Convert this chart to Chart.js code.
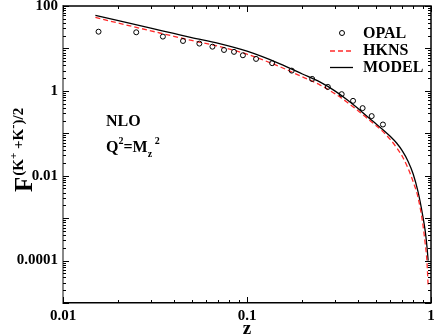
<!DOCTYPE html>
<html>
<head>
<meta charset="utf-8">
<script src="https://cdn.jsdelivr.net/npm/chart.js@4/dist/chart.umd.min.js"></script>
<style>
  html, body { margin: 0; padding: 0; background: #fff; }
  #c { display: block; }
</style>
</head>
<body>
<canvas id="c" width="436" height="336"></canvas>
<script>
// curves
const zGrid = [0.015, 0.02, 0.03, 0.04, 0.05, 0.07, 0.1, 0.15, 0.2, 0.25, 0.3, 0.35, 0.4, 0.45, 0.5, 0.55, 0.6, 0.65, 0.7, 0.75, 0.8, 0.85, 0.9, 0.93, 0.95, 0.965]
const modelF = [60, 45, 30, 22.5, 18, 13.2, 8.6, 4.4, 2.5, 1.6, 1.0, 0.62, 0.39, 0.25, 0.17, 0.12, 0.085, 0.059, 0.038, 0.022, 0.011, 0.0042, 0.0012, 0.0005, 0.00022, 0.0001]
const hknsF = [54, 39.5, 26, 19.3, 15.4, 11.2, 7.3, 3.75, 2.13, 1.37, 0.86, 0.54, 0.345, 0.225, 0.155, 0.108, 0.072, 0.046, 0.028, 0.015, 0.0072, 0.0031, 0.0008, 0.00025, 0.0001, 0.000025]

// OPAL data points
const opalZ = [0.0156, 0.025, 0.0349, 0.0449, 0.0551, 0.0649, 0.075, 0.085, 0.095, 0.112, 0.137, 0.175, 0.226, 0.275, 0.327, 0.377, 0.425, 0.476, 0.548]
const opalF = [24.8, 24.0, 19.0, 15.0, 13.0, 11.0, 9.2, 8.3, 6.9, 5.66, 4.49, 3.0, 1.91, 1.24, 0.836, 0.582, 0.392, 0.254, 0.161]

const xTickValues = [0.01, 0.1, 1]
const xTickLabels = ['0.01', '0.1', '1']
const yTickValues = [0.0001, 0.01, 1, 100]
const yTickLabels = ['0.0001', '0.01', '1', '100']

const serif = '"Liberation Serif", "Times New Roman", serif'

const toPoints = (xs, ys) => xs.map((x, i) => ({ x: x, y: ys[i] }))

function logTicks(min, max) {
  let out = []
  for (let k = Math.floor(Math.log10(min)); k <= Math.ceil(Math.log10(max)); k++) {
    for (let m = 1; m <= 9; m++) {
      let v = m * Math.pow(10, k)
      if (v >= min * 0.999 && v <= max * 1.001) out.push({ v: v, major: m == 1 })
    }
  }
  return out
}

const decorations = {
  id: 'decorations',
  afterDraw(chart) {
    const ctx = chart.ctx
    const a = chart.chartArea
    const xs = chart.scales.x
    const ys = chart.scales.y
    ctx.save()
    // top and right frame
    ctx.strokeStyle = '#000'
    ctx.lineWidth = 1.5
    ctx.beginPath()
    ctx.moveTo(a.left, a.top); ctx.lineTo(a.right, a.top); ctx.lineTo(a.right, a.bottom)
    ctx.stroke()

    // inward tick marks
    ctx.lineWidth = 1
    logTicks(xs.min, xs.max).forEach(t => {
      const px = Math.round(xs.getPixelForValue(t.v)) + 0.5
      const len = t.major ? 6 : 3
      ctx.beginPath()
      ctx.moveTo(px, a.bottom); ctx.lineTo(px, a.bottom - len)
      ctx.moveTo(px, a.top); ctx.lineTo(px, a.top + len)
      ctx.stroke()
    })
    logTicks(ys.min, ys.max).forEach(t => {
      const py = Math.round(ys.getPixelForValue(t.v)) + 0.5
      const len = t.major ? 6 : 3
      ctx.beginPath()
      ctx.moveTo(a.left, py); ctx.lineTo(a.left + len, py)
      ctx.moveTo(a.right, py); ctx.lineTo(a.right - len, py)
      ctx.stroke()
    })

    ctx.fillStyle = '#000'
    ctx.textAlign = 'left'
    ctx.textBaseline = 'alphabetic'

    // x title
    ctx.font = 'bold 19px ' + serif
    ctx.textAlign = 'center'
    ctx.fillText('z', (a.left + a.right) / 2, 334)
    ctx.textAlign = 'left'

    // y title, rotated
    ctx.save()
    ctx.translate(32, 192)
    ctx.rotate(-Math.PI / 2)
    ctx.font = 'bold 25px ' + serif
    ctx.fillText('F', 0, 0)
    let u = ctx.measureText('F').width + 1
    const parts = [['(K', 15, -9], ['+', 11, -15], [' +K', 15, -9], ['-', 13, -15], [')/2', 15, -9]]
    parts.forEach(p => {
      ctx.font = 'bold ' + p[1] + 'px ' + serif
      ctx.fillText(p[0], u, p[2])
      u += ctx.measureText(p[0]).width
    })
    ctx.restore()

    // NLO, Q^2 = M_z^2
    ctx.font = 'bold 16px ' + serif
    ctx.fillText('NLO', 106, 126)
    let x = 106
    ctx.fillText('Q', x, 152); x += ctx.measureText('Q').width
    ctx.font = 'bold 10px ' + serif
    ctx.fillText('2', x, 144); x += ctx.measureText('2').width
    ctx.font = 'bold 16px ' + serif
    ctx.fillText('=M', x, 152); x += ctx.measureText('=M').width
    ctx.font = 'bold 10px ' + serif
    ctx.fillText('z', x, 157)
    ctx.fillText('2', x + 7, 144)

    // legend
    const ds = chart.data.datasets
    ctx.font = 'bold 16px ' + serif
    ctx.textBaseline = 'middle'
    ctx.fillText('OPAL', 363, 34)
    ctx.fillText('HKNS', 363, 51)
    ctx.fillText('MODEL', 363, 68)
    ctx.lineWidth = 1
    ctx.strokeStyle = ds[0].borderColor
    ctx.beginPath()
    ctx.arc(342, 33, 2.5, 0, Math.PI * 2)
    ctx.stroke()
    ctx.lineWidth = ds[1].borderWidth
    ctx.strokeStyle = ds[1].borderColor
    ctx.setLineDash(ds[1].borderDash)
    ctx.beginPath(); ctx.moveTo(330, 51); ctx.lineTo(353, 51); ctx.stroke()
    ctx.setLineDash([])
    ctx.lineWidth = ds[2].borderWidth
    ctx.strokeStyle = ds[2].borderColor
    ctx.beginPath(); ctx.moveTo(330, 67.5); ctx.lineTo(353, 67.5); ctx.stroke()
    ctx.restore()
  }
}

const chart = new Chart(document.getElementById('c'), {
  type: 'scatter',
  data: {
    datasets: [{
      label: 'OPAL',
      data: toPoints(opalZ, opalF),
      pointStyle: 'circle',
      pointRadius: 2.5,
      borderWidth: 1,
      borderColor: '#000',
      backgroundColor: 'rgba(0,0,0,0)',
      showLine: false
    }, {
      label: 'HKNS',
      data: toPoints(zGrid, hknsF),
      showLine: true,
      pointRadius: 0,
      borderColor: '#ff2a2a',
      borderWidth: 1.3,
      borderDash: [5, 3],
      cubicInterpolationMode: 'monotone'
    }, {
      label: 'MODEL',
      data: toPoints(zGrid, modelF),
      showLine: true,
      pointRadius: 0,
      borderColor: '#000',
      borderWidth: 1.3,
      cubicInterpolationMode: 'monotone'
    }]
  },
  options: {
    responsive: false,
    animation: false,
    devicePixelRatio: 1,
    layout: { padding: { top: 6, right: 5, left: 0, bottom: 0 } },
    plugins: { legend: { display: false }, tooltip: { enabled: false } },
    scales: {
      x: {
        type: 'logarithmic',
        min: 0.01,
        max: 1,
        afterBuildTicks: (s) => { s.ticks = xTickValues.map(v => ({ value: v })) },
        afterFit: (s) => { s.height = 33; s.paddingLeft = 0; s.paddingRight = 0 },
        grid: { display: false, drawTicks: false },
        border: { color: '#000', width: 1.5 },
        ticks: {
          color: '#000',
          padding: 4,
          maxRotation: 0,
          autoSkip: false,
          font: { family: serif, weight: 'bold', size: 15 },
          callback: (v) => xTickLabels[xTickValues.indexOf(v)]
        }
      },
      y: {
        type: 'logarithmic',
        min: 0.00001,
        max: 100,
        afterBuildTicks: (s) => { s.ticks = yTickValues.map(v => ({ value: v })) },
        afterFit: (s) => { s.width = 63; s.paddingTop = 0; s.paddingBottom = 0 },
        grid: { display: false, drawTicks: false },
        border: { color: '#888', width: 2 },
        ticks: {
          color: '#000',
          padding: 5,
          autoSkip: false,
          font: { family: serif, weight: 'bold', size: 15 },
          callback: (v) => yTickLabels[yTickValues.indexOf(v)]
        }
      }
    }
  },
  plugins: [decorations]
})
</script>
</body>
</html>
